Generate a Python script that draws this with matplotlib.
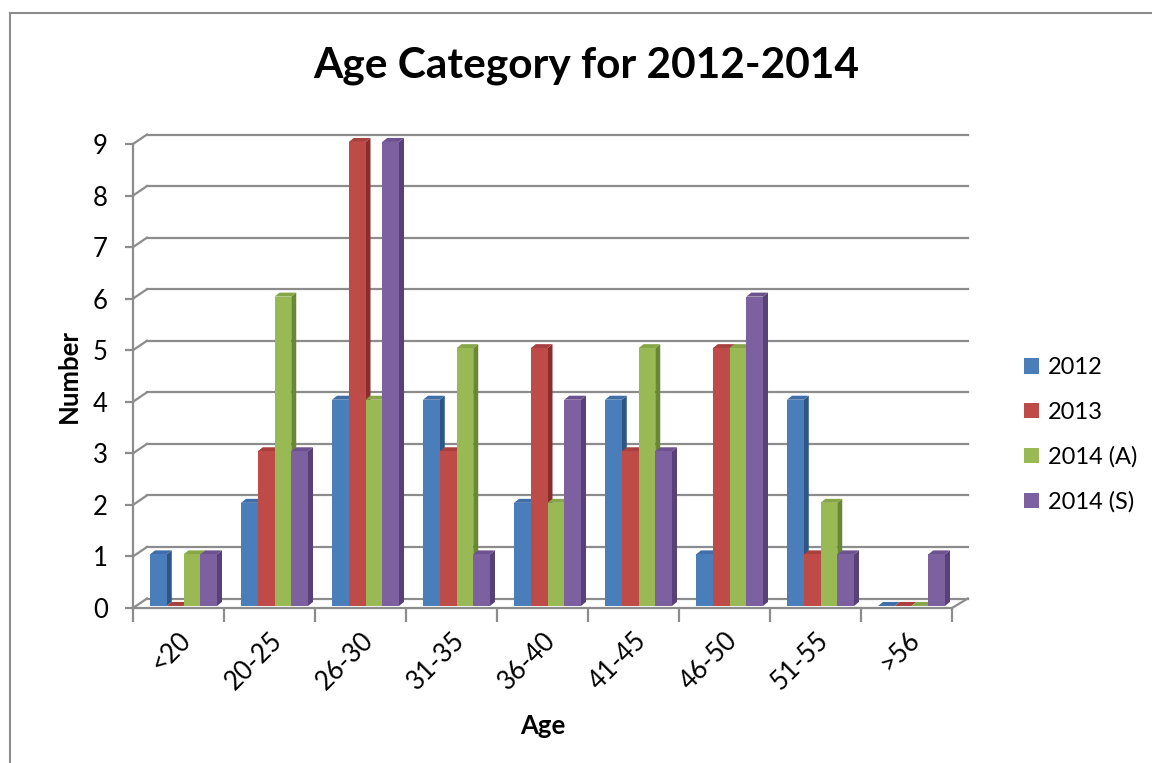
import numpy as np
import matplotlib
matplotlib.use("Agg")
import matplotlib.pyplot as plt
from matplotlib.patches import Polygon, Rectangle
from matplotlib.lines import Line2D

plt.rcParams['font.family'] = ['Lato', 'DejaVu Sans']

# Data
age_groups = ["<20", "20-25", "26-30", "31-35", "36-40", "41-45", "46-50", "51-55", ">56"]
series_names = ["2012", "2013", "2014 (A)", "2014 (S)"]
v2012 = [1, 2, 4, 4, 2, 4, 1, 4, 0]
v2013 = [0, 3, 9, 3, 5, 3, 5, 1, 0]
v2014a = [1, 6, 4, 5, 2, 5, 5, 2, 0]
v2014s = [1, 3, 9, 1, 4, 3, 6, 1, 1]
series_values = [v2012, v2013, v2014a, v2014s]
yticks = list(range(0, 10))

front = ["#4A7EBB", "#BE4B48", "#98B954", "#7D60A0"]
side = ["#2E5584", "#8A2E2C", "#6A8737", "#574177"]
top = ["#3F6EA8", "#A8403D", "#86A648", "#6C528E"]
grid_c = "#8c8c8c"
fs = 18.5

fig = plt.figure(figsize=(11.52, 7.63), dpi=100)
ax = fig.add_axes([133/1152, 1-608/763, 819/1152, 464/763])
ax.set_xlim(-0.5, len(age_groups) - 0.5)
ax.set_ylim(0, 9)

# depth offsets (data units)
ddx = 14/91
ddy = 9.5/(464/9)
bdx = 5/91
bdy = 4/(464/9)
base = 0.04

# back wall gridlines with slanted connectors
for y in yticks:
    ax.plot([-0.5, -0.5 + ddx], [y, y + ddy], color=grid_c, lw=1.6, clip_on=False, zorder=1)
    ax.plot([-0.5 + ddx, 8.5 + ddx + 0.02], [y + ddy, y + ddy], color=grid_c, lw=1.6,
            clip_on=False, zorder=1)
# floor right edge
ax.plot([8.5, 8.5 + ddx + 0.02], [0, ddy], color=grid_c, lw=1.6, clip_on=False, zorder=1)

# bars with side and top faces
w = 0.184
shift = 0.055
z = 3
for i in range(len(age_groups)):
    for k, vals in enumerate(series_values):
        h = vals[i]
        x0 = i + shift + (k - 2) * w
        x1 = x0 + w
        b = base
        t = base + h
        ax.add_patch(Polygon([(x1, b), (x1 + bdx, b + bdy), (x1 + bdx, t + bdy), (x1, t)],
                             closed=True, fc=side[k], ec="none", zorder=z, clip_on=False))
        ax.add_patch(Polygon([(x0, t), (x1, t), (x1 + bdx, t + bdy), (x0 + bdx, t + bdy)],
                             closed=True, fc=top[k], ec="none", zorder=z, clip_on=False))
        if h > 0:
            ax.add_patch(Rectangle((x0, b), w, h, fc=front[k], ec="none", zorder=z + 0.5,
                                   clip_on=False))
        z += 1

# axes styling
for s in ["top", "right"]:
    ax.spines[s].set_visible(False)
for s in ["left", "bottom"]:
    ax.spines[s].set_color(grid_c)
    ax.spines[s].set_linewidth(1.6)
ax.set_yticks(yticks)
ax.tick_params(axis="y", direction="out", length=6, width=1.6, color=grid_c,
               labelsize=fs, pad=12)
ax.set_xticks(np.arange(-0.5, len(age_groups)), minor=False)
ax.set_xticklabels([])
ax.tick_params(axis="x", which="major", direction="out", length=10, width=1.6, color=grid_c)
ax.set_xticks(np.arange(len(age_groups)), minor=True)
ax.set_xticklabels(age_groups, minor=True, rotation=45, ha="right", va="top",
                   rotation_mode="anchor", fontsize=fs)
ax.tick_params(axis="x", which="minor", length=0, pad=14)

ax.set_xlabel("Age", fontsize=fs, fontweight="bold", labelpad=14)
ax.set_ylabel("Number", fontsize=fs, fontweight="bold", labelpad=9)

fig.text(586/1152, 1-66/763, "Age Category for 2012-2014", ha="center", va="center",
         fontsize=30.5, fontweight="bold")

handles = [Rectangle((0, 0), 1, 1, fc=front[k], ec="none") for k in range(4)]
fig.legend(handles, series_names, loc="center left", bbox_to_anchor=(1003/1152, 1-435/763),
           frameon=False, fontsize=17, handlelength=0.64, handleheight=0.64,
           handletextpad=0.35, labelspacing=1.0)

# chart border
fig.add_artist(Line2D([10/1152, 1], [1-13/763, 1-13/763], color="#8c8c8c", lw=1.5))
fig.add_artist(Line2D([10/1152, 10/1152], [0, 1-13/763], color="#8c8c8c", lw=1.5))

fig.savefig("out.png", dpi=100)
